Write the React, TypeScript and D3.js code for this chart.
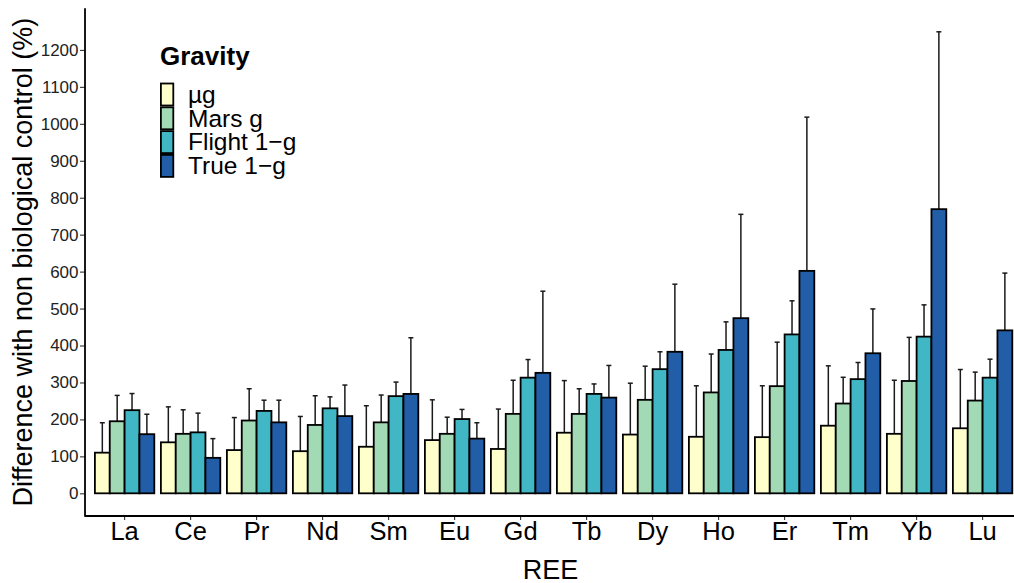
import { useEffect, useRef } from "react";
import * as d3 from "d3";

// REE categories and the four gravity treatments
const elements = ["La", "Ce", "Pr", "Nd", "Sm", "Eu", "Gd", "Tb", "Dy", "Ho", "Er", "Tm", "Yb", "Lu"];
const groups = ["µg", "Mars g", "Flight 1−g", "True 1−g"];
const colors = ["#FFFFCC", "#A1DAB4", "#41B6C4", "#225EA8"];

// mean values (%)
const microG = [110, 138, 117, 114, 126, 144, 120, 164, 159, 153, 152, 183, 161, 176];
const marsG = [195, 161, 197, 185, 192, 161, 215, 215, 253, 273, 290, 243, 304, 251];
const flight1g = [225, 165, 223, 230, 263, 201, 313, 269, 336, 388, 430, 309, 424, 313];
const true1g = [160, 96, 192, 209, 269, 148, 326, 259, 383, 474, 602, 379, 769, 441];

// upper end of error bars (%)
const microGUp = [191, 234, 205, 208, 237, 253, 228, 305, 298, 291, 291, 345, 306, 335];
const marsGUp = [265, 226, 283, 264, 266, 206, 306, 283, 344, 377, 409, 314, 422, 328];
const flight1gUp = [270, 217, 252, 261, 301, 227, 362, 296, 383, 464, 521, 354, 510, 363];
const true1gUp = [214, 148, 252, 293, 421, 191, 547, 346, 566, 755, 1018, 499, 1249, 596];

const yTicks = [0, 100, 200, 300, 400, 500, 600, 700, 800, 900, 1000, 1100, 1200];

const W = 1014;
const H = 583;
const FONT = "Liberation Sans, Arial, Helvetica, sans-serif";

export default function App() {
  const ref = useRef<SVGSVGElement>(null);

  useEffect(() => {
    const svg = d3.select(ref.current);
    svg.selectAll("*").remove();

    const means = [microG, marsG, flight1g, true1g];
    const ups = [microGUp, marsGUp, flight1gUp, true1gUp];
    const data = elements.flatMap((el, i) =>
      groups.map((g, j) => ({ el, g, j, mean: means[j][i], up: ups[j][i] }))
    );

    const left = 85;
    const top = 8.3;
    const bottom = 516;

    const x = d3.scaleBand().domain(elements).range([left, 1022.2]).paddingInner(0).paddingOuter(0.1);
    const inner = d3
      .scaleBand()
      .domain(groups)
      .range([x.bandwidth() * 0.05, x.bandwidth() * 0.95]);
    const y = d3.scaleLinear().domain([-61.4, 1312.6]).range([bottom, top]);

    // error bars (upper only, bars drawn over them)
    const eb = svg.append("g");
    data.forEach((d) => {
      const cx = x(d.el)! + inner(d.g)! + inner.bandwidth() / 2;
      eb.append("line")
        .attr("x1", cx).attr("x2", cx)
        .attr("y1", y(d.mean)).attr("y2", y(d.up))
        .attr("stroke", "#1a1a1a").attr("stroke-width", 1.5);
      eb.append("line")
        .attr("x1", cx - 2.5).attr("x2", cx + 2.5)
        .attr("y1", y(d.up)).attr("y2", y(d.up))
        .attr("stroke", "#1a1a1a").attr("stroke-width", 1.5);
    });

    // bars
    svg.append("g")
      .selectAll("rect")
      .data(data)
      .enter()
      .append("rect")
      .attr("x", (d) => x(d.el)! + inner(d.g)!)
      .attr("width", inner.bandwidth())
      .attr("y", (d) => y(d.mean))
      .attr("height", (d) => y(0) - y(d.mean))
      .attr("fill", (d) => colors[d.j])
      .attr("stroke", "#000")
      .attr("stroke-width", 1.8);

    // y axis
    const ya = svg.append("g").attr("transform", `translate(${left},0)`)
      .call(d3.axisLeft(y).tickValues(yTicks).tickFormat(d3.format("d")).tickSize(5).tickSizeOuter(0));
    ya.select(".domain").remove();
    ya.selectAll(".tick line").attr("stroke", "#333").attr("stroke-width", 1.1);
    ya.selectAll(".tick text")
      .attr("font-family", FONT).attr("font-size", 17).attr("fill", "#222").attr("x", -6.5);
    svg.append("line")
      .attr("x1", left).attr("x2", left).attr("y1", top).attr("y2", bottom + 0.8)
      .attr("stroke", "#000").attr("stroke-width", 1.8);

    // x axis
    const xa = svg.append("g").attr("transform", `translate(0,${bottom})`)
      .call(d3.axisBottom(x).tickSize(4).tickSizeOuter(0));
    xa.select(".domain").remove();
    xa.selectAll(".tick line").attr("stroke", "#333").attr("stroke-width", 1.1);
    xa.selectAll(".tick text")
      .attr("font-family", FONT).attr("font-size", 25.5).attr("fill", "#000").attr("dy", 0).attr("y", 24.3);
    svg.append("line")
      .attr("x1", left).attr("x2", W).attr("y1", bottom).attr("y2", bottom)
      .attr("stroke", "#000").attr("stroke-width", 1.8);

    // axis titles
    svg.append("text")
      .text("REE")
      .attr("x", (left + 1022.2) / 2 - 3).attr("y", 578.5)
      .attr("text-anchor", "middle").attr("font-family", FONT).attr("font-size", 27);
    svg.append("text")
      .text("Difference with non biological control (%)")
      .attr("transform", `translate(32,${(top + bottom) / 2}) rotate(-90)`)
      .attr("text-anchor", "middle").attr("font-family", FONT).attr("font-size", 27);

    // legend
    const lg = svg.append("g").attr("transform", "translate(160,0)");
    lg.append("text")
      .text("Gravity")
      .attr("x", 0).attr("y", 65)
      .attr("font-family", FONT).attr("font-size", 26).attr("font-weight", "bold");
    groups.forEach((g, j) => {
      const ky = 83.5 + j * 23.8;
      lg.append("rect")
        .attr("x", 0.9).attr("y", ky).attr("width", 12.4).attr("height", 22)
        .attr("fill", colors[j]).attr("stroke", "#000").attr("stroke-width", 1.8);
      lg.append("text")
        .text(g)
        .attr("x", 28).attr("y", ky + 19.3)
        .attr("font-family", FONT).attr("font-size", 24.5);
    });
  }, []);

  return (
    <svg
      ref={ref}
      width={W}
      height={H}
      style={{ position: "absolute", left: 0, top: 0, background: "#fff" }}
    />
  );
}
